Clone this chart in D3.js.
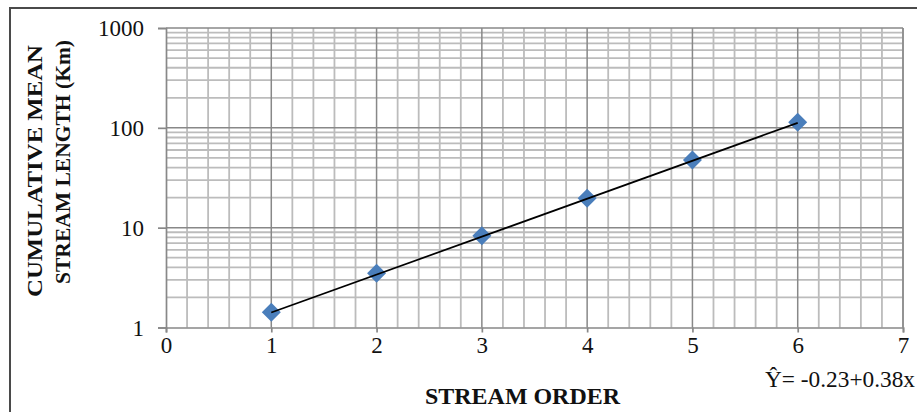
<!DOCTYPE html>
<html>
<head>
<meta charset="utf-8">
<script src="https://cdn.jsdelivr.net/npm/d3@7/dist/d3.min.js"></script>
<style>
  html, body { margin: 0; padding: 0; background: #fff; }
  svg { display: block; }
  text { font-family: "Liberation Serif", "Times New Roman", serif; fill: #111; }
</style>
</head>
<body>
<svg id="chart" width="917" height="412"></svg>
<script>
// Stream order vs cumulative mean stream length (km)
const streamOrder = [1, 2, 3, 4, 5, 6];
const cumMeanLength = [1.42, 3.5, 8.3, 19.7, 47.7, 113.8];
const xTickValues = [0, 1, 2, 3, 4, 5, 6, 7];
const yTickValues = [1, 10, 100, 1000];
// log10(Y) = a + b * x
const fitIntercept = -0.23;
const fitSlope = 0.38;

const W = 917, H = 412;
const plot = { left: 166, right: 903, top: 28, bottom: 327.5 };

const svg = d3.select("#chart");

// outer frame (extends past the right/bottom edge)
svg.append("rect")
  .attr("x", 10).attr("y", 8)
  .attr("width", W + 20).attr("height", H + 20)
  .attr("fill", "none").attr("stroke", "#4a4a4a").attr("stroke-width", 2);

const x = d3.scaleLinear().domain([0, 7]).range([plot.left, plot.right]);
const y = d3.scaleLog().domain([1, 1000]).range([plot.bottom, plot.top]);

const grid = svg.append("g");

// minor vertical gridlines every 0.2
const xMinor = d3.range(0, 7.0001, 0.2).map(v => +v.toFixed(1)).filter(v => !Number.isInteger(v));
grid.selectAll(".xminor").data(xMinor).join("line")
  .attr("x1", d => x(d)).attr("x2", d => x(d))
  .attr("y1", plot.top).attr("y2", plot.bottom)
  .attr("stroke", "#bcbcbc").attr("stroke-width", 1.8);

// minor horizontal gridlines (2..9 of each decade)
const yMinor = [];
[1, 10, 100].forEach(dec => { for (let k = 2; k <= 9; k++) yMinor.push(dec * k); });
grid.selectAll(".yminor").data(yMinor).join("line")
  .attr("x1", plot.left).attr("x2", plot.right)
  .attr("y1", d => y(d)).attr("y2", d => y(d))
  .attr("stroke", "#bcbcbc").attr("stroke-width", 1.8);

// right edge of plot area
grid.append("line")
  .attr("x1", plot.right).attr("x2", plot.right)
  .attr("y1", plot.top).attr("y2", plot.bottom)
  .attr("stroke", "#ababab").attr("stroke-width", 1.8);

// major gridlines
grid.selectAll(".xmajor").data(xTickValues.slice(1)).join("line")
  .attr("x1", d => x(d)).attr("x2", d => x(d))
  .attr("y1", plot.top).attr("y2", plot.bottom)
  .attr("stroke", "#888").attr("stroke-width", 1.5);
grid.selectAll(".ymajor").data(yTickValues.slice(1)).join("line")
  .attr("x1", plot.left).attr("x2", plot.right)
  .attr("y1", d => y(d)).attr("y2", d => y(d))
  .attr("stroke", "#888").attr("stroke-width", 1.5);

// axes
const yAxis = svg.append("g")
  .attr("transform", `translate(${plot.left},0)`)
  .call(d3.axisLeft(y).tickValues(yTickValues).tickFormat(d3.format("d")).tickSize(8).tickPadding(14));
const xAxis = svg.append("g")
  .attr("transform", `translate(0,${plot.bottom})`)
  .call(d3.axisBottom(x).tickValues(xTickValues).tickFormat(d3.format("d")).tickSize(5).tickPadding(4));

[yAxis, xAxis].forEach(ax => {
  ax.select(".domain").attr("stroke", "#888").attr("stroke-width", 1.7);
  ax.selectAll(".tick line").attr("stroke", "#888").attr("stroke-width", 1.7);
  ax.selectAll(".tick text")
    .attr("fill", "#111")
    .style("font-family", '"Liberation Serif", "Times New Roman", serif')
    .style("font-size", "23px");
});
xAxis.selectAll(".tick text").attr("dy", "0.7em");
yAxis.selectAll(".tick text").attr("dy", "0.34em");

// trend line from the fitted equation
const fitPts = [streamOrder[0], streamOrder[streamOrder.length - 1]]
  .map(v => [v, Math.pow(10, fitIntercept + fitSlope * v)]);

// data markers (diamonds)
const diamond = 9.5;
svg.append("g").selectAll("path").data(streamOrder.map((o, i) => [o, cumMeanLength[i]])).join("path")
  .attr("d", d => {
    const cx = x(d[0]), cy = y(d[1]);
    return `M${cx},${cy - diamond}L${cx + diamond},${cy}L${cx},${cy + diamond}L${cx - diamond},${cy}Z`;
  })
  .attr("fill", "#4a7ebb");

svg.append("path")
  .datum(fitPts)
  .attr("d", d3.line().x(d => x(d[0])).y(d => y(d[1])))
  .attr("fill", "none").attr("stroke", "#000").attr("stroke-width", 1.7);

// equation label
svg.append("text")
  .attr("x", 765).attr("y", 387)
  .attr("textLength", 150).attr("lengthAdjust", "spacingAndGlyphs")
  .style("font-size", "23px")
  .text(`Ŷ= ${fitIntercept.toFixed(2)}+${fitSlope.toFixed(2)}x`);

// axis titles
svg.append("text")
  .attr("x", 425).attr("y", 404)
  .attr("textLength", 195).attr("lengthAdjust", "spacingAndGlyphs")
  .style("font-size", "24px").style("font-weight", "bold")
  .text("STREAM ORDER");

const yTitle = svg.append("g");
yTitle.append("text")
  .attr("transform", "translate(42,297) rotate(-90)")
  .attr("textLength", 252).attr("lengthAdjust", "spacingAndGlyphs")
  .style("font-size", "22px").style("font-weight", "bold")
  .text("CUMULATIVE MEAN");
yTitle.append("text")
  .attr("transform", "translate(70,284) rotate(-90)")
  .attr("textLength", 244).attr("lengthAdjust", "spacingAndGlyphs")
  .style("font-size", "22px").style("font-weight", "bold")
  .text("STREAM LENGTH (Km)");
</script>
</body>
</html>
